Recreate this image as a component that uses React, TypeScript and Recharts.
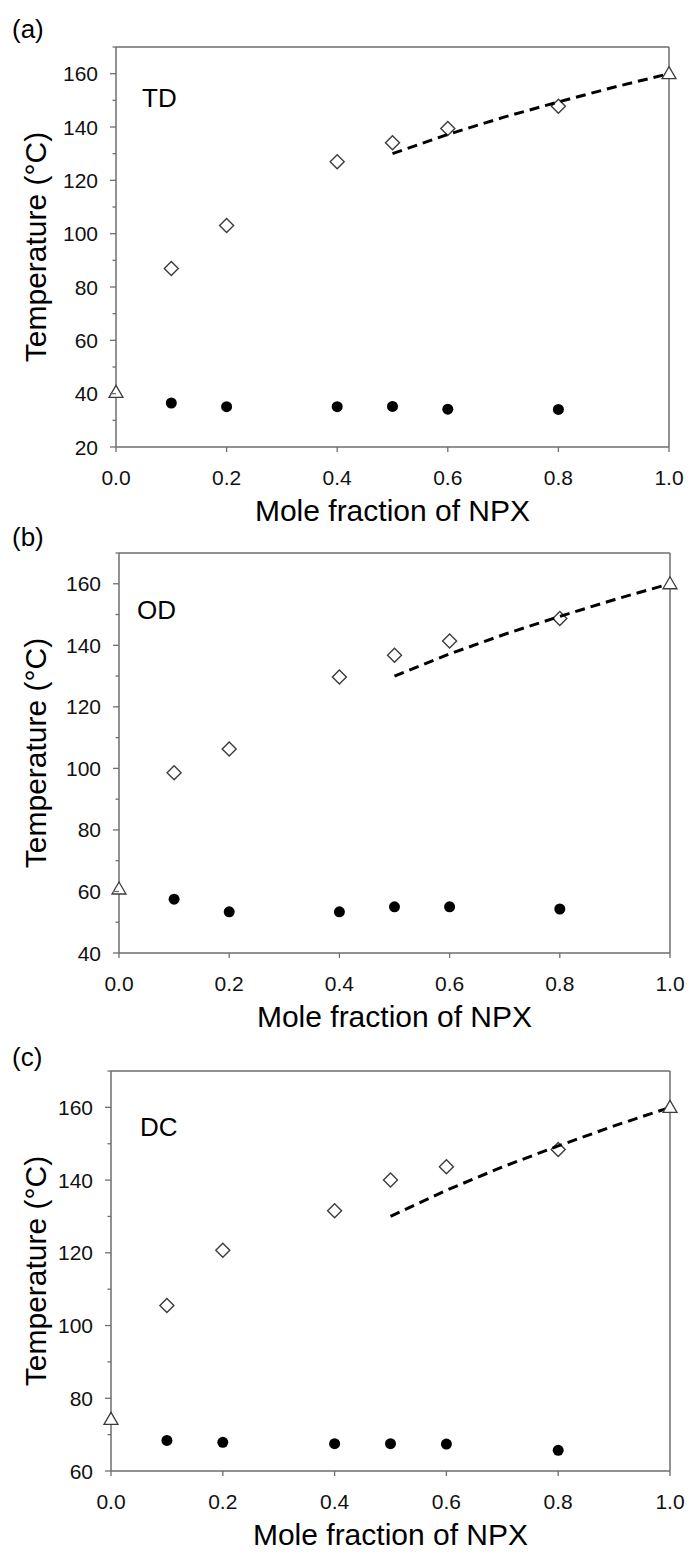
import { ReferenceLine, Scatter, ScatterChart, XAxis, YAxis } from "recharts";

// mole fraction of NPX for the measured mixtures
const FRACTIONS = [0.1, 0.2, 0.4, 0.5, 0.6, 0.8];
const PURE_X = [0, 1];
const X_TICKS = [0, 0.2, 0.4, 0.6, 0.8, 1.0];

// TD system
const TD_ONSET = [36.5, 35.1, 35.1, 35.2, 34.2, 34.1];
const TD_LIQUIDUS = [86.9, 103.1, 127.0, 134.1, 139.4, 147.8];
const TD_PURE = [40.5, 160];

// OD system
const OD_ONSET = [57.5, 53.4, 53.4, 55.0, 55.0, 54.3];
const OD_LIQUIDUS = [98.6, 106.3, 129.7, 136.8, 141.4, 148.7];
const OD_PURE = [60.8, 160];

// DC system
const DC_ONSET = [68.4, 67.9, 67.5, 67.5, 67.4, 65.7];
const DC_LIQUIDUS = [105.5, 120.7, 131.6, 140.0, 143.7, 148.4];
const DC_PURE = [74.2, 160];

// ideal solubility curve of NPX
const IDEAL_X = [0.5, 0.6, 0.7, 0.8, 0.9, 1.0];
const IDEAL_T = [130, 137.2, 143.6, 149.4, 154.9, 160];

const AXIS = "#6e6e6e";
const MARK = "#3c3c3c";
const FONT = "'Liberation Sans', Arial, sans-serif";

const PANELS = [
  { tag: "(a)", name: "TD", onset: TD_ONSET, liquidus: TD_LIQUIDUS, pure: TD_PURE, yMin: 20, plotTop: 47, left: 116, right: 669, tagY: 38, nameX: 142, nameY: 107 },
  { tag: "(b)", name: "OD", onset: OD_ONSET, liquidus: OD_LIQUIDUS, pure: OD_PURE, yMin: 40, plotTop: 553, left: 119, right: 670, tagY: 546, nameX: 137, nameY: 619 },
  { tag: "(c)", name: "DC", onset: DC_ONSET, liquidus: DC_LIQUIDUS, pure: DC_PURE, yMin: 60, plotTop: 1071, left: 111, right: 670, tagY: 1066, nameX: 140, nameY: 1136 },
];

const Y_MAX = 170;
const PLOT_H = 400;
const TOP_PAD = 60;
const X_AXIS_H = 82;

function YTick(props: any) {
  const { x, y, payload } = props;
  const major = payload.value % 20 === 0;
  return (
    <g>
      <line x1={x - (major ? 6 : 3.5)} x2={x} y1={y} y2={y} stroke={AXIS} strokeWidth={1.3} />
      {major && (
        <text x={x - 18} y={y} dy="0.36em" textAnchor="end" fontSize={21} fill="#111">
          {payload.value}
        </text>
      )}
    </g>
  );
}

function XTick(props: any) {
  const { x, y, payload } = props;
  return (
    <g>
      <line x1={x} x2={x} y1={y} y2={y + 5} stroke={AXIS} strokeWidth={1.3} />
      <text x={x} y={y + 30} dy="0.36em" textAnchor="middle" fontSize={21} fill="#111">
        {Number(payload.value).toFixed(1)}
      </text>
    </g>
  );
}

const Diamond = (p: any) => (
  <path
    d={`M${p.cx},${p.cy - 7} L${p.cx + 7},${p.cy} L${p.cx},${p.cy + 7} L${p.cx - 7},${p.cy} Z`}
    fill="none"
    stroke={MARK}
    strokeWidth={1.4}
  />
);

const Dot = (p: any) => <circle cx={p.cx} cy={p.cy} r={5.5} fill="#000" />;

const Triangle = (p: any) => (
  <path
    d={`M${p.cx},${p.cy - 7} L${p.cx + 7},${p.cy + 5} L${p.cx - 7},${p.cy + 5} Z`}
    fill="#fff"
    stroke={MARK}
    strokeWidth={1.3}
  />
);

const NoShape = () => <g />;

function Panel({ cfg }: { cfg: (typeof PANELS)[number] }) {
  const onsetData = FRACTIONS.map((x, i) => ({ x, t: cfg.onset[i] }));
  const liquidusData = FRACTIONS.map((x, i) => ({ x, t: cfg.liquidus[i] }));
  const pureData = PURE_X.map((x, i) => ({ x, t: cfg.pure[i] }));
  const idealData = IDEAL_X.map((x, i) => ({ x, t: IDEAL_T[i] }));

  const yTicks: number[] = [];
  for (let v = cfg.yMin; v <= Y_MAX; v += 10) yTicks.push(v);

  return (
    <div style={{ position: "absolute", left: 0, top: cfg.plotTop - TOP_PAD }}>
      <ScatterChart
        width={690}
        height={TOP_PAD + PLOT_H + X_AXIS_H}
        margin={{ top: TOP_PAD, right: 690 - cfg.right, bottom: 0, left: 0 }}
      >
        <XAxis
          type="number"
          dataKey="x"
          domain={[0, 1]}
          ticks={X_TICKS}
          height={X_AXIS_H}
          tickSize={0}
          tickMargin={0}
          tickLine={false}
          tick={<XTick />}
          axisLine={{ stroke: AXIS, strokeWidth: 1.5 }}
          label={{ value: "Mole fraction of NPX", position: "insideBottom", offset: 8, fontSize: 30, fill: "#000" }}
        />
        <YAxis
          type="number"
          dataKey="t"
          domain={[cfg.yMin, Y_MAX]}
          ticks={yTicks}
          interval={0}
          width={cfg.left}
          tickSize={0}
          tickMargin={0}
          tickLine={false}
          tick={<YTick />}
          axisLine={{ stroke: AXIS, strokeWidth: 1.5 }}
          label={{
            value: "Temperature (°C)",
            angle: -90,
            position: "insideLeft",
            offset: 35,
            textAnchor: "middle",
            fontSize: 30,
            fill: "#000",
          }}
        />
        <ReferenceLine y={Y_MAX} stroke={AXIS} strokeWidth={1.5} />
        <ReferenceLine x={1} stroke={AXIS} strokeWidth={1.5} />
        <Scatter data={liquidusData} shape={Diamond} isAnimationActive={false} />
        <Scatter data={onsetData} shape={Dot} isAnimationActive={false} />
        <Scatter
          data={idealData}
          shape={NoShape}
          line={{ stroke: "#000", strokeWidth: 3, strokeDasharray: "10 6" }}
          isAnimationActive={false}
        />
        <Scatter data={pureData} shape={Triangle} isAnimationActive={false} />
      </ScatterChart>
    </div>
  );
}

export default function App() {
  return (
    <div
      style={{
        position: "absolute",
        left: 0,
        top: 0,
        width: 690,
        height: 1557,
        background: "#fff",
        fontFamily: FONT,
      }}
    >
      {PANELS.map((p) => (
        <Panel key={p.tag} cfg={p} />
      ))}
      <svg width={690} height={1557} style={{ position: "absolute", left: 0, top: 0, pointerEvents: "none" }}>
        {PANELS.map((p) => (
          <g key={p.tag}>
            <text x={12} y={p.tagY} fontSize={26} fill="#000">
              {p.tag}
            </text>
            <text x={p.nameX} y={p.nameY} fontSize={26} fill="#000">
              {p.name}
            </text>
          </g>
        ))}
      </svg>
    </div>
  );
}
